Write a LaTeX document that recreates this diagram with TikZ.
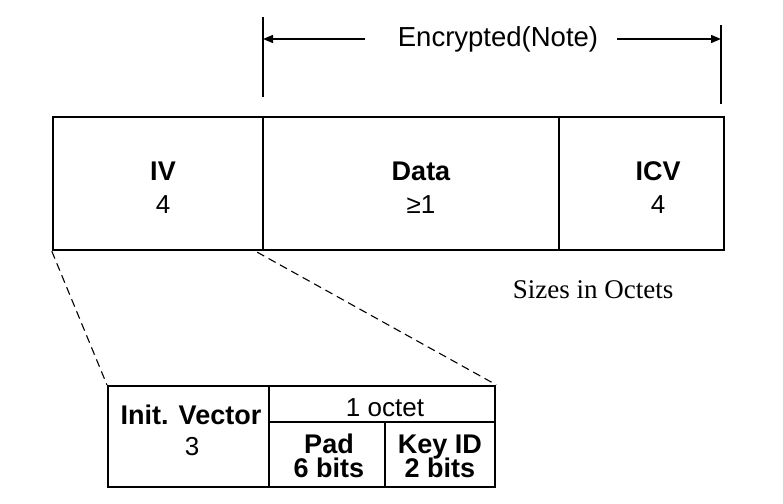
\documentclass[tikz,border=0pt]{standalone}
\usepackage{fontspec}
\setmainfont{Liberation Sans}
\newfontfamily\timesfont{Liberation Serif}
\usetikzlibrary{arrows.meta,positioning,calc}

\begin{document}
\begin{tikzpicture}[x=1pt, y=-1pt,
    field/.style={rectangle, draw=black, line width=2.4pt, inner sep=0pt},
    subfield/.style={rectangle, draw=black, line width=2pt, inner sep=0pt},
    fieldname/.style={anchor=base, font=\fontsize{27}{27}\selectfont\bfseries},
    fieldsize/.style={anchor=base, font=\fontsize{26}{26}\selectfont},
    bitsname/.style={anchor=base, align=center, inner sep=0pt,
                     font={\fontsize{27}{24}\selectfont\bfseries\lineskiplimit=-20pt}},
    zoomline/.style={line width=1.1pt, dash pattern=on 8pt off 5pt},
    spanarrow/.style={line width=1.4pt, -{Triangle[length=10pt, width=8pt]}}]
    \useasboundingbox (0,0) rectangle (783,503);

    % Packet fields
    \node[field, minimum width=210pt, minimum height=133pt] (iv) at (158,183.5) {};
    \node[field, minimum width=296pt, minimum height=133pt] (data) at (411,183.5) {};
    \node[field, minimum width=165pt, minimum height=133pt] (icv) at (641.5,183.5) {};

    % Field labels
    \node[fieldname] at (163,180) {IV};
    \node[fieldsize] at (163,213) {4};
    \node[fieldname] at (421,180) {Data};
    \node[fieldsize] at (421,213) {≥1};
    \node[fieldname] at (658,180) {ICV};
    \node[fieldsize] at (658,213) {4};

    % Encrypted span
    \coordinate (encL) at (263,17);
    \coordinate (encLb) at (263,97);
    \coordinate (encR) at (721,25);
    \coordinate (encRb) at (721,104);
    \draw[line width=1.8pt] (encL) -- (encLb);
    \draw[line width=1.8pt] (encR) -- (encRb);
    \node[anchor=base, font=\fontsize{27.5}{27.5}\selectfont] (enc) at (498,46) {Encrypted(Note)};
    \coordinate (arrL) at (365,39);
    \coordinate (arrR) at (617,39);
    \draw[spanarrow] (arrL) -- (encL |- arrL);
    \draw[spanarrow] (arrR) -- (encR |- arrR);

    \node[anchor=base, font=\timesfont\fontsize{27}{27}\selectfont] (unit) at (593,298) {Sizes in Octets};

    % IV breakdown
    \node[subfield, minimum width=161pt, minimum height=101pt] (init) at (188.5,436.5) {};
    \node[field, minimum width=226pt, minimum height=36pt] (octet) at (382,404) {};
    \node[field, minimum width=116pt, minimum height=65pt] (pad) at (327,454.5) {};
    \node[field, minimum width=110pt, minimum height=65pt] (keyid) at (440,454.5) {};

    \node[fieldname] at (191,424) {Init. Vector};
    \node[fieldsize] at (192,455) {3};
    \node[fieldsize] at (385,416) {1 octet};
    \node[bitsname] at (329,477) {Pad\\6 bits};
    \node[bitsname] at (440,477) {Key ID\\2 bits};

    % Zoom lines
    \draw[zoomline] (iv.south west) -- (init.north west);
    \draw[zoomline] ($(iv.south east)+(-7,1)$) -- (octet.north east);
\end{tikzpicture}
\end{document}
